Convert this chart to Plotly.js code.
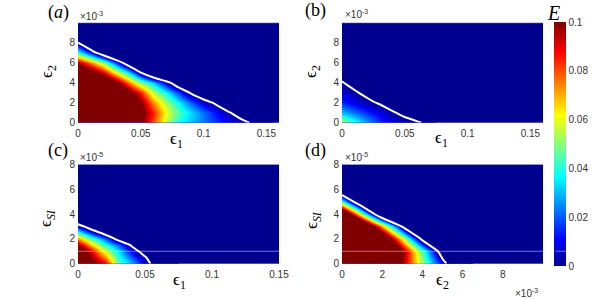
<!DOCTYPE html>
<html><head><meta charset="utf-8">
<script src="https://cdn.plot.ly/plotly-3.0.1.min.js"></script>
<style>html,body{margin:0;padding:0;background:#fff}#chart{width:600px;height:299px}</style>
</head><body><div id="chart"></div>
<script>
// ---------- data ----------
// Panel (a): E over (eps1, eps2)
const aEps1 = [0,0.01,0.02,0.03,0.04,0.05,0.06,0.07,0.08,0.09,0.10,0.11,0.12,0.13,0.14,0.15];
const aEps2 = [0,0.001,0.002,0.003,0.004,0.005,0.006,0.007,0.008,0.009];
const aE = [
 [0.200,0.190,0.180,0.165,0.130,0.102,0.080,0.056,0.0385,0.0306,0.0233,0.016,0.011,0.0047,-0.0024,-0.009],
 [0.210,0.200,0.190,0.170,0.135,0.105,0.085,0.061,0.044,0.033,0.022,0.0125,0.0015,-0.008,-0.016,-0.024],
 [0.200,0.190,0.170,0.150,0.125,0.100,0.074,0.053,0.036,0.021,0.0075,-0.003,-0.013,-0.023,-0.033,-0.043],
 [0.180,0.170,0.150,0.130,0.108,0.085,0.056,0.0375,0.017,-0.002,-0.015,-0.028,-0.040,-0.050,-0.060,-0.070],
 [0.160,0.150,0.130,0.106,0.078,0.050,0.033,0.0085,-0.015,-0.035,-0.050,-0.060,-0.070,-0.080,-0.090,-0.100],
 [0.130,0.110,0.093,0.062,0.037,0.001,-0.030,-0.050,-0.070,-0.080,-0.090,-0.100,-0.100,-0.100,-0.100,-0.100],
 [0.097,0.075,0.052,0.018,-0.015,-0.045,-0.070,-0.090,-0.100,-0.100,-0.100,-0.100,-0.100,-0.100,-0.100,-0.100],
 [0.042,0.013,-0.017,-0.045,-0.070,-0.090,-0.100,-0.100,-0.100,-0.100,-0.100,-0.100,-0.100,-0.100,-0.100,-0.100],
 [0.001,-0.030,-0.060,-0.090,-0.100,-0.100,-0.100,-0.100,-0.100,-0.100,-0.100,-0.100,-0.100,-0.100,-0.100,-0.100],
 [-0.040,-0.070,-0.100,-0.100,-0.100,-0.100,-0.100,-0.100,-0.100,-0.100,-0.100,-0.100,-0.100,-0.100,-0.100,-0.100]
];
// Panel (b): E over (eps1, eps2)
const bEps1 = [0,0.01,0.02,0.03,0.04,0.05,0.06,0.07];
const bEps2 = [0,0.0005,0.001,0.002,0.003,0.004,0.005];
const bE = [
 [0.058,0.041,0.028,0.016,0.0095,0.0045,0.0012,-0.002],
 [0.041,0.031,0.021,0.0125,0.0055,0.0007,-0.0025,-0.006],
 [0.030,0.022,0.015,0.0085,0.0015,-0.003,-0.007,-0.010],
 [0.015,0.0085,0.0035,-0.0013,-0.006,-0.010,-0.010,-0.010],
 [0.0075,0.0019,-0.0035,-0.008,-0.010,-0.010,-0.010,-0.010],
 [0.001,-0.0045,-0.009,-0.010,-0.010,-0.010,-0.010,-0.010],
 [-0.005,-0.010,-0.010,-0.010,-0.010,-0.010,-0.010,-0.010]
];
// Panel (c): E over (eps1, epsSI)
const cEps1 = [0,0.01,0.02,0.03,0.04,0.05,0.06,0.07];
const cEpsSI = [0,0.5e-5,1e-5,1.5e-5,2e-5,3e-5,4e-5];
const cE = [
 [0.130,0.108,0.091,0.0475,0.0305,0.0066,-0.009,-0.025],
 [0.125,0.099,0.075,0.041,0.020,0.002,-0.016,-0.032],
 [0.120,0.090,0.058,0.034,0.0095,-0.008,-0.025,-0.040],
 [0.098,0.068,0.040,0.021,-0.002,-0.020,-0.040,-0.060],
 [0.073,0.046,0.022,-0.007,-0.030,-0.050,-0.070,-0.080],
 [0.0125,-0.015,-0.040,-0.060,-0.080,-0.100,-0.100,-0.100],
 [-0.060,-0.080,-0.100,-0.100,-0.100,-0.100,-0.100,-0.100]
];
// Panel (d): E over (eps2, epsSI)
const dEps2 = [0,0.001,0.002,0.003,0.004,0.005,0.006];
const dEpsSI = [0,1e-5,2e-5,3e-5,4e-5,5e-5,6e-5];
const dE = [
 [0.231,0.187,0.142,0.098,0.053,0.009,-0.036],
 [0.277,0.219,0.161,0.103,0.045,-0.013,-0.071],
 [0.275,0.205,0.134,0.064,-0.006,-0.077,-0.100],
 [0.215,0.143,0.070,-0.002,-0.075,-0.100,-0.100],
 [0.138,0.052,-0.033,-0.100,-0.100,-0.100,-0.100],
 [0.045,-0.033,-0.100,-0.100,-0.100,-0.100,-0.100],
 [-0.040,-0.100,-0.100,-0.100,-0.100,-0.100,-0.100]
];
// tick values / labels
const tickEps1 = [0,0.05,0.1,0.15];
const tickEps1Text = ['0','0.05','0.1','0.15'];
const tickMilli = [0,0.002,0.004,0.006,0.008];
const tickMilliText = ['0','2','4','6','8'];
const tickSI = [0,2e-5,4e-5,6e-5,8e-5];
const tickSIText = ['0','2','4','6','8'];
const cbTicks = [0,0.02,0.04,0.06,0.08,0.1];
const cbTickText = ['0','0.02','0.04','0.06','0.08','0.1'];
const faintLineSI = [1.0e-5];
const contourLevel = [0.0002];

// ---------- style ----------
const W = 600, H = 299;
const px = v => v / W, py = v => 1 - v / H;
const DARK = 'rgb(0,0,143)';
const jet = [[0,'rgb(0,0,143)'],[0.111,'rgb(0,0,255)'],[0.365,'rgb(0,255,255)'],
             [0.619,'rgb(255,255,0)'],[0.873,'rgb(255,0,0)'],[1,'rgb(128,0,0)']];
const sans = 'Liberation Sans, Arial, Helvetica, sans-serif';
const serif = 'Liberation Serif, DejaVu Serif, Times New Roman, serif';
const tickFont = {family: sans, size: 10, color: '#333'};

function panel(x, y, z, xa, ya, withBar) {
  const hm = {type:'heatmap', x:x, y:y, z:z, xaxis:xa, yaxis:ya, zmin:0, zmax:0.1,
    colorscale:jet, zsmooth:'best', showscale:!!withBar, hoverinfo:'skip'};
  if (withBar) hm.colorbar = {x:px(554), xanchor:'left', y:py(22), yanchor:'top',
    len:(265.5-22)/H, lenmode:'fraction', thickness:12, thicknessmode:'pixels',
    outlinewidth:0, xpad:0, ypad:0, tickvals:cbTicks, ticktext:cbTickText,
    ticks:'', tickfont:tickFont, ticklabelposition:'outside'};
  const ct = {type:'contour', x:x, y:y, z:z, xaxis:xa, yaxis:ya, showscale:false,
    hoverinfo:'skip', contours:{coloring:'none', start:contourLevel[0], end:contourLevel[0], size:1, showlines:true},
    line:{color:'white', width:2, smoothing:0.5}};
  return [hm, ct];
}

const data = [].concat(
  panel(aEps1, aEps2, aE, 'x', 'y', true),
  panel(bEps1, bEps2, bE, 'x2', 'y2', false),
  panel(cEps1, cEpsSI, cE, 'x3', 'y3', false),
  panel(dEps2, dEpsSI, dE, 'x4', 'y4', false)
);

const xL = [px(78), px(279)], xR = [px(342), px(543)];
const yT = [py(122.7), py(22.7)], yB = [py(263.7), py(164.3)];
function ax(domain, anchor, range, tv, tt, isY) {
  return {domain:domain, anchor:anchor, range:range, tickvals:tv, ticktext:tt,
    showgrid:false, zeroline:false, showline:false, ticks:'', tickfont:tickFont, fixedrange:true,
    ticklabelstandoff: isY ? 2 : 3};
}

function ann(text, x, y, size, fam, opts) {
  return Object.assign({text:text, x:px(x), y:py(y), xref:'paper', yref:'paper', showarrow:false,
    font:{family:fam, size:size, color:'#000'}, xanchor:'center', yanchor:'middle'}, opts||{});
}
const expFont = {family:sans, size:10, color:'#333'};
const annotations = [
  ann('(<i>a</i>)', 58, 13, 18, serif),
  ann('(b)', 316, 11, 18, serif),
  ann('(c)', 58, 150, 18, serif),
  ann('(d)', 316, 150, 18, serif),
  ann('×10<sup>-3</sup>', 78, 16, 10, sans, {xanchor:'left', font:expFont}),
  ann('×10<sup>-3</sup>', 343, 14, 10, sans, {xanchor:'left', font:expFont}),
  ann('×10<sup>-5</sup>', 78, 157, 10, sans, {xanchor:'left', font:expFont}),
  ann('×10<sup>-5</sup>', 343, 157, 10, sans, {xanchor:'left', font:expFont}),
  ann('×10<sup>-3</sup>', 513, 293, 10, sans, {xanchor:'left', font:expFont}),
  ann('ϵ<sub>1</sub>', 176, 140, 17, serif),
  ann('ϵ<sub>1</sub>', 441, 139, 17, serif),
  ann('ϵ<sub>1</sub>', 179, 281, 17, serif),
  ann('ϵ<sub>2</sub>', 442, 281, 17, serif),
  ann('ϵ<sub>2</sub>', 48, 72, 17, serif, {textangle:-90}),
  ann('ϵ<sub>2</sub>', 312, 72, 17, serif, {textangle:-90}),
  ann('ϵ<sub><i>SI</i></sub>', 47, 218, 17, serif, {textangle:-90}),
  ann('ϵ<sub><i>SI</i></sub>', 313, 220, 17, serif, {textangle:-90}),
  ann('<i>E</i>', 553, 13, 20, serif),
  // faint line continued across the colour bar (drawn above it)
  {text:'', xref:'paper', yref:'y3', x:px(566), y:faintLineSI[0], showarrow:true, arrowhead:0,
   arrowwidth:1, arrowcolor:'rgba(255,255,255,0.45)', ax:-12, ay:0, standoff:0, startstandoff:0}
];

const edge = 'rgba(255,255,255,0.5)';
const shapes = [
  {type:'line', xref:'paper', yref:'y3', x0:px(78), x1:px(554), y0:faintLineSI[0], y1:faintLineSI[0], line:{color:'rgba(255,255,255,0.45)', width:1}},
  {type:'line', xref:'x domain', yref:'y domain', x0:0, x1:1, y0:1, y1:1, line:{color:edge, width:1}},
  {type:'line', xref:'x2 domain', yref:'y2 domain', x0:0, x1:1, y0:1, y1:1, line:{color:edge, width:1}},
  {type:'line', xref:'x3 domain', yref:'y3 domain', x0:0, x1:1, y0:1, y1:1, line:{color:edge, width:1}},
  {type:'line', xref:'x4 domain', yref:'y4 domain', x0:0, x1:1, y0:1, y1:1, line:{color:edge, width:1}}
];

const layout = {
  width:W, height:H, margin:{l:0,r:0,t:0,b:0, autoexpand:false},
  paper_bgcolor:'#fff', plot_bgcolor:DARK, showlegend:false,
  xaxis: ax(xL, 'y', [0,0.16], tickEps1, tickEps1Text),
  yaxis: ax(yT, 'x', [0,0.01], tickMilli, tickMilliText, true),
  xaxis2: ax(xR, 'y2', [0,0.16], tickEps1, tickEps1Text),
  yaxis2: ax(yT, 'x2', [0,0.01], tickMilli, tickMilliText, true),
  xaxis3: ax(xL, 'y3', [0,0.15], tickEps1, tickEps1Text),
  yaxis3: ax(yB, 'x3', [0,8e-5], tickSI, tickSIText, true),
  xaxis4: ax(xR, 'y4', [0,0.01], tickMilli, tickMilliText),
  yaxis4: ax(yB, 'x4', [0,8e-5], tickSI, tickSIText, true),
  annotations:annotations, shapes:shapes
};
Plotly.newPlot('chart', data, layout, {staticPlot:true, displayModeBar:false});
</script></body></html>
